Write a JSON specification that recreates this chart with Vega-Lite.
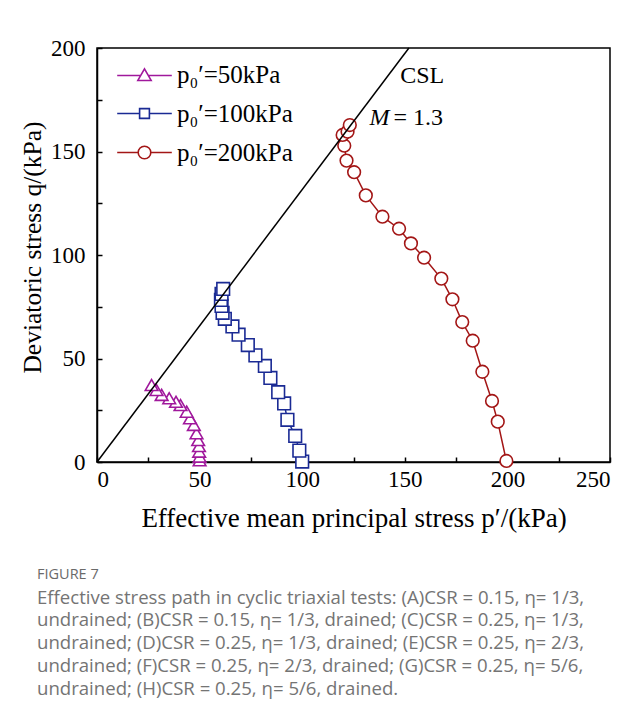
{
  "$schema": "https://vega.github.io/schema/vega-lite/v6.json",
  "width": 513,
  "height": 414,
  "autosize": {"type": "none"},
  "padding": {"left": 97, "top": 48, "right": 29, "bottom": 263},
  "background": "white",
  "config": {
    "view": {"stroke": "black", "strokeWidth": 1.5},
    "font": "Liberation Serif",
    "axis": {
      "domainColor": "black", "domainWidth": 1.5,
      "tickColor": "black", "tickWidth": 1.5, "tickSize": -5,
      "labelFont": "Liberation Serif", "labelFontSize": 23, "labelColor": "black",
      "titleFont": "Liberation Serif", "titleFontSize": 26.5, "titleFontWeight": "normal", "titleColor": "black",
      "grid": false
    },
    "legend": {
      "orient": "none", "legendX": 35, "legendY": 14, "padding": 0,
      "labelFont": "Liberation Serif", "labelFontSize": 25, "labelColor": "black",
      "symbolSize": 196, "symbolStrokeWidth": 1.6, "labelOffset": 20, "rowPadding": 13
    }
  },
  "title": {
    "text": "FIGURE 7",
    "subtitle": [
      "Effective stress path in cyclic triaxial tests: (A)CSR = 0.15, η= 1/3,",
      "undrained; (B)CSR = 0.15, η= 1/3, drained; (C)CSR = 0.25, η= 1/3,",
      "undrained; (D)CSR = 0.25, η= 1/3, drained; (E)CSR = 0.25, η= 2/3,",
      "undrained; (F)CSR = 0.25, η= 2/3, drained; (G)CSR = 0.25, η= 5/6,",
      "undrained; (H)CSR = 0.25, η= 5/6, drained."
    ],
    "orient": "bottom", "anchor": "start", "frame": "group", "dx": -60, "offset": 37,
    "font": "Open Sans", "fontSize": 14.5, "fontWeight": "normal", "color": "#6a6a6a",
    "subtitleFont": "Open Sans", "subtitleFontSize": 18.6, "subtitleColor": "#747474",
    "subtitleLineHeight": 22.8, "subtitlePadding": 6
  },
  "datasets": {
    "paths": [
      {"series": "50", "idx": 0, "p": 50.0, "q": 0.8},
      {"series": "50", "idx": 1, "p": 50.0, "q": 2.6},
      {"series": "50", "idx": 2, "p": 49.8, "q": 5.0},
      {"series": "50", "idx": 3, "p": 49.7, "q": 7.7},
      {"series": "50", "idx": 4, "p": 49.3, "q": 10.6},
      {"series": "50", "idx": 5, "p": 48.5, "q": 13.9},
      {"series": "50", "idx": 6, "p": 47.2, "q": 17.9},
      {"series": "50", "idx": 7, "p": 45.3, "q": 21.1},
      {"series": "50", "idx": 8, "p": 43.7, "q": 24.3},
      {"series": "50", "idx": 9, "p": 40.7, "q": 27.5},
      {"series": "50", "idx": 10, "p": 38.5, "q": 29.1},
      {"series": "50", "idx": 11, "p": 35.2, "q": 30.8},
      {"series": "50", "idx": 12, "p": 31.5, "q": 32.4},
      {"series": "50", "idx": 13, "p": 29.0, "q": 34.8},
      {"series": "50", "idx": 14, "p": 26.6, "q": 37.2},
      {"series": "100", "idx": 0, "p": 100.0, "q": 0.2},
      {"series": "100", "idx": 1, "p": 98.6, "q": 5.5},
      {"series": "100", "idx": 2, "p": 96.6, "q": 12.6},
      {"series": "100", "idx": 3, "p": 92.8, "q": 20.4},
      {"series": "100", "idx": 4, "p": 91.2, "q": 28.3},
      {"series": "100", "idx": 5, "p": 88.3, "q": 33.7},
      {"series": "100", "idx": 6, "p": 84.5, "q": 40.6},
      {"series": "100", "idx": 7, "p": 81.8, "q": 46.4},
      {"series": "100", "idx": 8, "p": 77.2, "q": 51.5},
      {"series": "100", "idx": 9, "p": 73.5, "q": 56.5},
      {"series": "100", "idx": 10, "p": 69.0, "q": 61.5},
      {"series": "100", "idx": 11, "p": 66.0, "q": 65.5},
      {"series": "100", "idx": 12, "p": 62.3, "q": 69.2},
      {"series": "100", "idx": 13, "p": 61.2, "q": 72.1},
      {"series": "100", "idx": 14, "p": 60.7, "q": 75.4},
      {"series": "100", "idx": 15, "p": 60.4, "q": 78.3},
      {"series": "100", "idx": 16, "p": 60.7, "q": 81.2},
      {"series": "100", "idx": 17, "p": 61.5, "q": 83.6},
      {"series": "200", "idx": 0, "p": 199.5, "q": 0.5},
      {"series": "200", "idx": 1, "p": 195.3, "q": 19.5},
      {"series": "200", "idx": 2, "p": 192.5, "q": 29.5},
      {"series": "200", "idx": 3, "p": 187.8, "q": 43.6},
      {"series": "200", "idx": 4, "p": 183.1, "q": 58.6},
      {"series": "200", "idx": 5, "p": 178.0, "q": 67.6},
      {"series": "200", "idx": 6, "p": 173.2, "q": 78.6},
      {"series": "200", "idx": 7, "p": 167.8, "q": 88.6},
      {"series": "200", "idx": 8, "p": 159.4, "q": 98.7},
      {"series": "200", "idx": 9, "p": 153.0, "q": 105.6},
      {"series": "200", "idx": 10, "p": 147.2, "q": 112.7},
      {"series": "200", "idx": 11, "p": 139.1, "q": 118.5},
      {"series": "200", "idx": 12, "p": 131.0, "q": 128.8},
      {"series": "200", "idx": 13, "p": 125.3, "q": 140.0},
      {"series": "200", "idx": 14, "p": 121.6, "q": 145.6},
      {"series": "200", "idx": 15, "p": 120.5, "q": 152.8},
      {"series": "200", "idx": 16, "p": 119.7, "q": 158.0},
      {"series": "200", "idx": 17, "p": 122.1, "q": 159.6},
      {"series": "200", "idx": 18, "p": 123.2, "q": 162.8}
    ],
    "csl": [
      {"p": 0, "q": 0},
      {"p": 152, "q": 200}
    ],
    "notes": [
      {"label": "CSL", "p": 158.5, "q": 186.5},
      {"label": "M", "p": 143.5, "q": 166},
      {"label": "= 1.3", "p": 143.5, "q": 166}
    ]
  },
  "encoding": {
    "x": {
      "field": "p", "type": "quantitative",
      "scale": {"domain": [0, 250], "nice": false, "zero": false},
      "axis": {
        "values": [0, 25, 50, 75, 100, 125, 150, 175, 200, 225, 250],
        "labelExpr": "datum.value % 50 === 0 ? datum.label : ''",
        "labelPadding": 11,
        "title": "Effective mean principal stress p′/(kPa)",
        "titleFontSize": 27,
        "titlePadding": 14
      }
    },
    "y": {
      "field": "q", "type": "quantitative",
      "scale": {"domain": [0, 200], "nice": false, "zero": false},
      "axis": {
        "values": [0, 25, 50, 75, 100, 125, 150, 175, 200],
        "labelExpr": "datum.value % 50 === 0 ? datum.label : ''",
        "labelPadding": 17,
        "title": "Deviatoric stress q/(kPa)",
        "titleFontSize": 25.5,
        "titleY": 199,
        "titlePadding": 5
      }
    }
  },
  "resolve": {"scale": {"color": "independent", "shape": "independent"}},
  "layer": [
    {
      "data": {"name": "paths"},
      "mark": {"type": "line", "strokeWidth": 1.5},
      "encoding": {
        "color": {
          "field": "series", "type": "nominal",
          "scale": {"domain": ["50", "100", "200"], "range": ["#A0189C", "#1A2A94", "#A31616"]},
          "legend": null
        },
        "order": {"field": "idx", "type": "quantitative"}
      }
    },
    {
      "data": {"name": "paths"},
      "mark": {"type": "point", "filled": false, "fill": "white", "strokeWidth": 1.6, "opacity": 1, "size": 160},
      "encoding": {
        "color": {
          "field": "series", "type": "nominal",
          "scale": {"domain": ["50", "100", "200"], "range": ["#A0189C", "#1A2A94", "#A31616"]},
          "legend": null
        },
        "shape": {
          "field": "series", "type": "nominal",
          "scale": {"domain": ["50", "100", "200"], "range": ["triangle-up", "square", "circle"]},
          "legend": null
        }
      }
    },
    {
      "data": {"name": "paths"},
      "transform": [{"filter": "false"}],
      "mark": {"type": "point", "filled": false, "strokeWidth": 1.6, "opacity": 1},
      "encoding": {
        "color": {
          "field": "series", "type": "nominal",
          "scale": {"domain": ["50", "100", "200"], "range": ["#A0189C", "#1A2A94", "#A31616"]},
          "legend": {"title": null, "labelExpr": "'p₀′=' + datum.label + 'kPa'"}
        },
        "shape": {
          "field": "series", "type": "nominal",
          "scale": {
            "domain": ["50", "100", "200"],
            "range": [
              "M-3.9,0.15H-0.5M0.5,0.15H3.9M0,-0.8L0.95,0.85L-0.95,0.85Z",
              "M-3.9,0H-0.7M0.7,0H3.9M-0.7,-0.7H0.7V0.7H-0.7Z",
              "M-3.9,0H-0.9M0.9,0H3.9M0.9,0A0.9,0.9 0 1 1 -0.9,0A0.9,0.9 0 1 1 0.9,0Z"
            ]
          },
          "legend": {"title": null, "labelExpr": "'p₀′=' + datum.label + 'kPa'"}
        }
      }
    },
    {
      "data": {"name": "csl"},
      "mark": {"type": "line", "color": "black", "strokeWidth": 1.5},
      "encoding": {}
    },
    {
      "data": {"name": "notes"},
      "transform": [{"filter": "datum.label === 'CSL'"}],
      "mark": {"type": "text", "font": "Liberation Serif", "fontSize": 24, "color": "black", "align": "center", "baseline": "middle"},
      "encoding": {"text": {"field": "label"}}
    },
    {
      "data": {"name": "notes"},
      "transform": [{"filter": "datum.label === 'M'"}],
      "mark": {"type": "text", "font": "Liberation Serif", "fontSize": 24, "fontStyle": "italic", "color": "black", "align": "right", "baseline": "middle", "dx": -2},
      "encoding": {"text": {"field": "label"}}
    },
    {
      "data": {"name": "notes"},
      "transform": [{"filter": "datum.label === '= 1.3'"}],
      "mark": {"type": "text", "font": "Liberation Serif", "fontSize": 24, "color": "black", "align": "left", "baseline": "middle", "dx": 2},
      "encoding": {"text": {"field": "label"}}
    }
  ]
}
